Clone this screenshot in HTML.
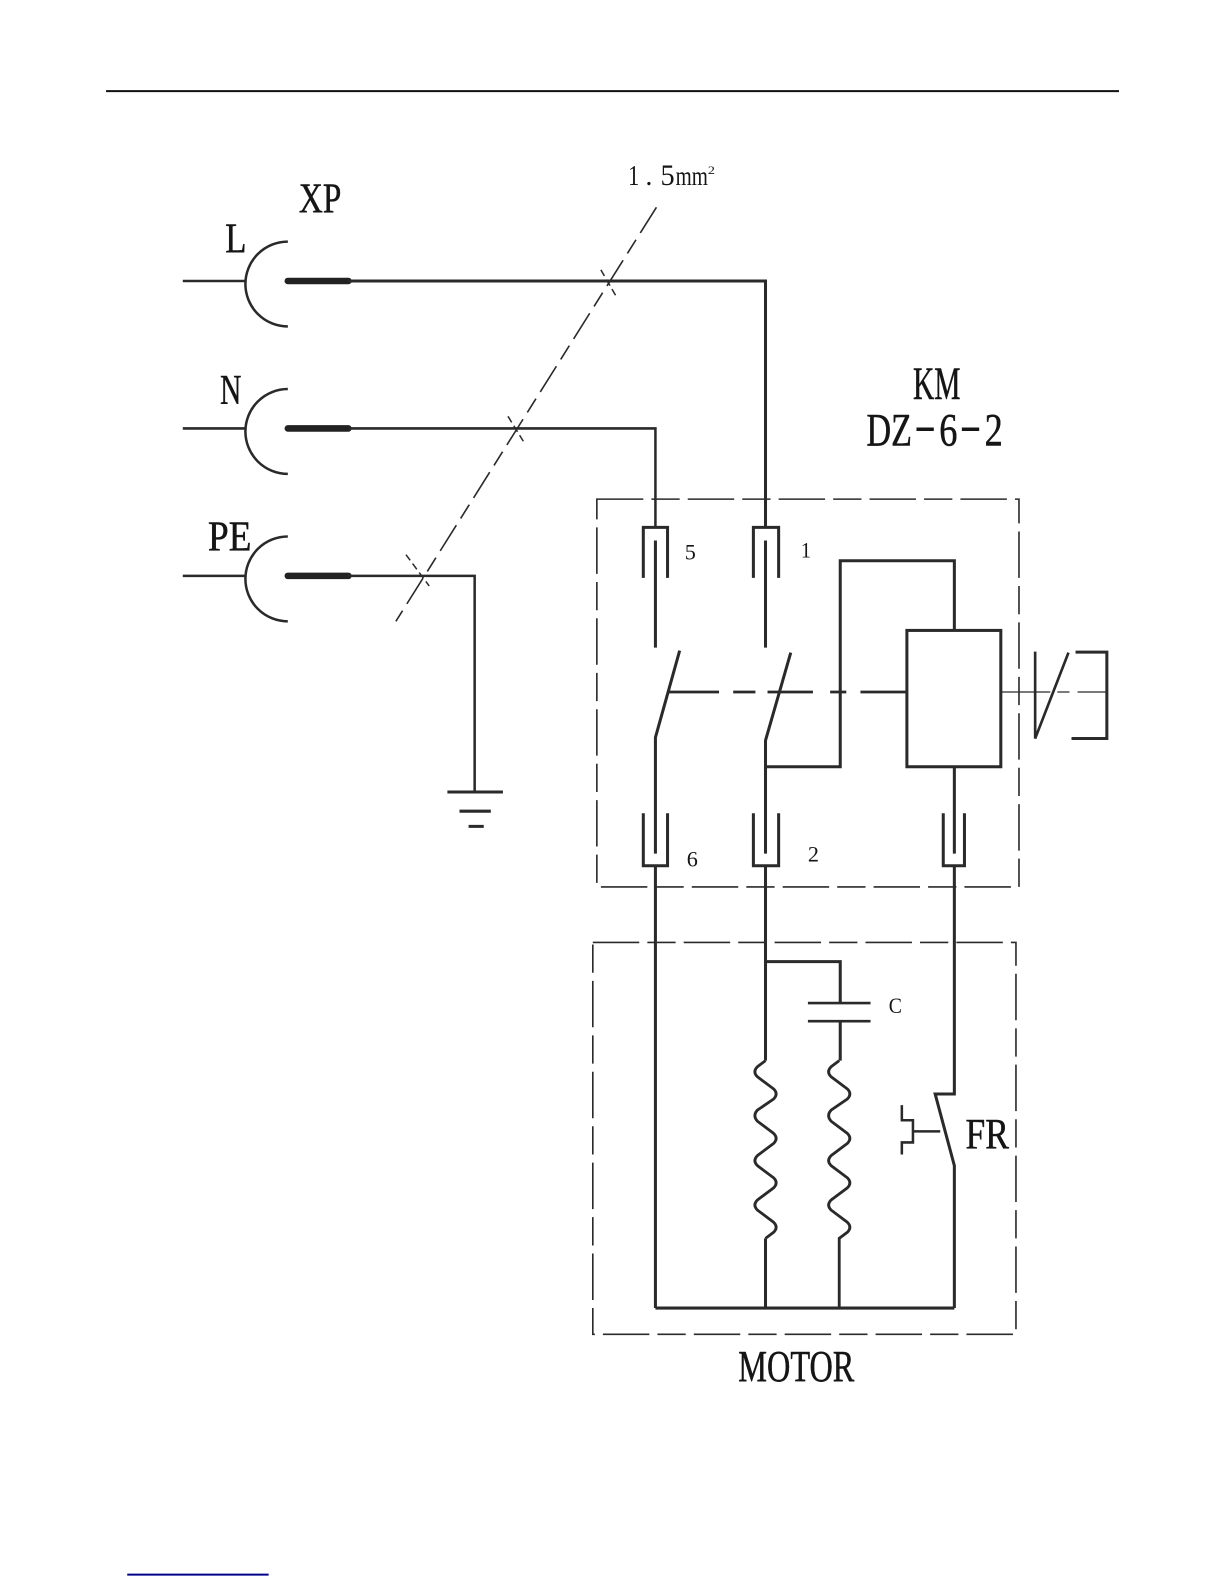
<!DOCTYPE html>
<html><head><meta charset="utf-8"><style>
html,body{margin:0;padding:0;background:#fff;width:1224px;height:1584px;overflow:hidden}
svg{display:block}
text{font-family:"Liberation Serif",serif;fill:#151515}
.b{stroke:#151515;stroke-width:.5}
</style></head><body>
<svg xmlns="http://www.w3.org/2000/svg" width="1224" height="1584" viewBox="0 0 1212 1568" fill="none" stroke="#2a2a2a" stroke-width="3">
<rect width="1212" height="1568" fill="#fff" stroke="none"/>
<line x1="105" y1="90" x2="1108" y2="90" stroke="#111" stroke-width="2"/>
<line x1="126" y1="1559" x2="266" y2="1559" stroke="#00008b" stroke-width="2"/>

<!-- Plugs -->
<g stroke-width="2.5">
<path d="M285 239A42 42 0 0 0 285 323M181 278H243"/>
<path d="M285 385A42 42 0 0 0 285 469M181 424H243"/>
<path d="M285 531A42 42 0 0 0 285 615M181 570H243"/>
</g>
<g stroke-width="6.5" stroke-linecap="round" stroke="#222">
<path d="M285 278H345M285 424H345M285 570H345"/>
</g>
<path d="M345 278H758V522" stroke-width="3"/>
<path d="M345 424H649V522" stroke-width="2.5"/>
<path d="M345 570H470V784" stroke-width="2.5"/>

<!-- Ground -->
<path d="M443 784H498" stroke-width="3"/>
<path d="M455 803H486M464 818H479" stroke-width="3"/>

<!-- Cable slash -->
<path d="M650 205L392 615" stroke-width="1.6" stroke-dasharray="30 8 16 8"/>
<path d="M595 267L610 293M503 412L519 438M402 549L425 580" stroke-width="1.5" stroke-dasharray="7 4"/>

<!-- KM and motor boxes -->
<rect x="591" y="494" width="418" height="384" stroke-width="1.6" stroke-dasharray="46 8 28 8"/>
<rect x="587" y="933" width="419" height="388" stroke-width="1.6" stroke-dasharray="46 8 28 8"/>

<!-- Upper contacts -->
<g stroke-width="3">
<path d="M637 572V522H661V572M746 572V522H771V572"/>
<path d="M649 535V641M758 535V641"/>
<!-- Switches -->
<path d="M649 845V730L673 644M758 845V733L783 646"/>
<path d="M649 857V1295M758 857V1050M758 1226V1295"/>
<!-- Lower contacts -->
<path d="M637 805V857H661V805M746 805V857H771V805M934 805V857H955V805"/>
</g>
<path d="M661 685H712M726 685H748M760 685H805M822 685H838M852 685H898" stroke-width="2.8"/>

<!-- Relay -->
<rect x="898" y="624" width="93" height="135" stroke-width="3"/>
<path d="M945 624V555H832V759H758" stroke-width="3"/>
<path d="M945 759V845M945 857V1083H926L945 1154V1295" stroke-width="3"/>
<path d="M991 685H1040M1047 685H1059M1067 685H1096" stroke-width="1.2"/>
<path d="M1025 645V731L1058 646" stroke-width="2.6"/>
<path d="M1065 645.500H1096V731H1061" stroke-width="3"/>

<!-- Motor -->
<path d="M649 1295H945" stroke-width="3.2"/>
<path d="M758 952H832V993" stroke-width="3"/>
<path d="M800 993H862M800 1011H862" stroke-width="2.6"/>
<path d="M832 1011V1050" stroke-width="3"/>
<path d="M758 1050l-8 6q-5 5 0 10l16 12q5 5 0 10l-16 11q-5 5.500 0 11l16 12q5 5 0 10l-16 12q-5 5 0 10l16 12q5 5 0 10l-16 12q-5 5 0 10l16 12q5 5 0 10l-8 6" stroke-width="2.8"/>
<path d="M831 1050l-8 6q-5 5 0 10l16 12q5 5 0 10l-16 11q-5 5.500 0 11l16 12q5 5 0 10l-16 12q-5 5 0 10l16 12q5 5 0 10l-16 12q-5 5 0 10l16 12q5 5 0 10l-8 6V1295" stroke-width="2.800"/>
<path d="M931 1120H904M893 1094V1109H904V1131H893V1143" stroke-width="2.500"/>

<!-- Labels -->
<g stroke="none">
<text class="b" x="296" y="210" font-size="42" textLength="42" lengthAdjust="spacingAndGlyphs">XP</text>
<text class="b" x="223" y="250" font-size="42" textLength="21" lengthAdjust="spacingAndGlyphs">L</text>
<text class="b" x="218" y="400" font-size="42" textLength="21" lengthAdjust="spacingAndGlyphs">N</text>
<text class="b" x="206" y="545" font-size="42" textLength="43" lengthAdjust="spacingAndGlyphs">PE</text>
<text x="622" y="183" font-size="28" textLength="11" lengthAdjust="spacingAndGlyphs">1</text>
<text x="639" y="183" font-size="28">.</text>
<text x="654" y="183" font-size="29" textLength="14" lengthAdjust="spacingAndGlyphs">5</text>
<text x="669" y="183" font-size="27" textLength="32" lengthAdjust="spacingAndGlyphs">mm</text>
<text x="701" y="172" font-size="11" textLength="7" lengthAdjust="spacingAndGlyphs">2</text>
<text class="b" x="904" y="395" font-size="46" textLength="47" lengthAdjust="spacingAndGlyphs">KM</text>
<text class="b" x="858" y="441" font-size="46" textLength="45" lengthAdjust="spacingAndGlyphs">DZ</text>
<text x="905" y="436" font-size="46" textLength="22" lengthAdjust="spacingAndGlyphs">-</text>
<text class="b" x="930" y="441" font-size="46" textLength="18" lengthAdjust="spacingAndGlyphs">6</text>
<text x="950" y="436" font-size="46" textLength="22" lengthAdjust="spacingAndGlyphs">-</text>
<text class="b" x="975" y="441" font-size="46" textLength="18" lengthAdjust="spacingAndGlyphs">2</text>
<text x="678" y="554" font-size="22" textLength="11" lengthAdjust="spacingAndGlyphs">5</text>
<text x="793" y="552" font-size="22" textLength="10" lengthAdjust="spacingAndGlyphs">1</text>
<text x="680" y="858" font-size="22" textLength="11" lengthAdjust="spacingAndGlyphs">6</text>
<text x="800" y="853" font-size="22" textLength="11" lengthAdjust="spacingAndGlyphs">2</text>
<text x="880" y="1003" font-size="22" textLength="13" lengthAdjust="spacingAndGlyphs">C</text>
<text class="b" x="956" y="1137" font-size="43" textLength="43" lengthAdjust="spacingAndGlyphs">FR</text>
<text class="b" x="731" y="1367" font-size="44" textLength="115" lengthAdjust="spacingAndGlyphs">MOTOR</text>
</g>
</svg>
</body></html>
